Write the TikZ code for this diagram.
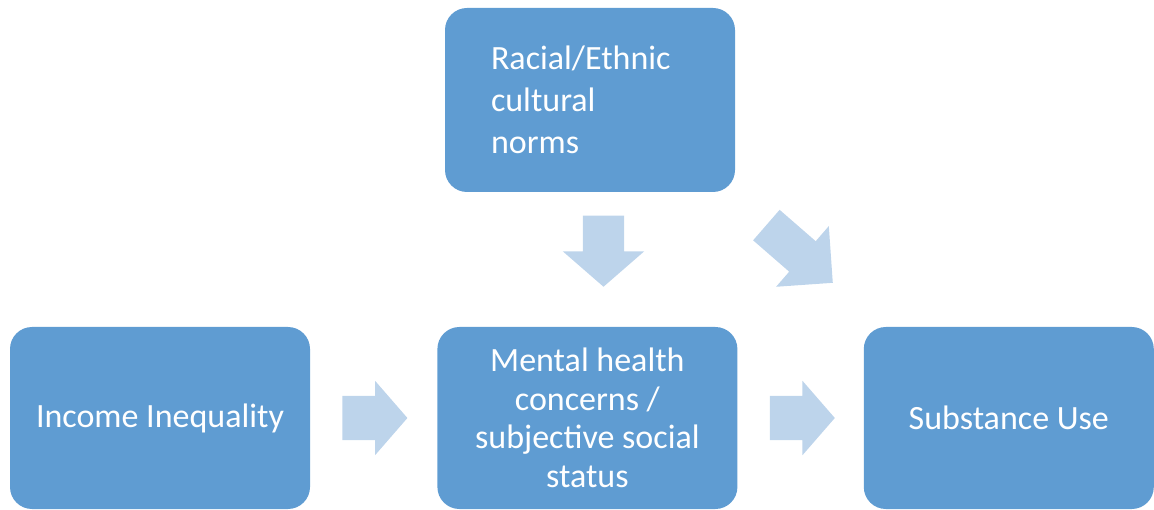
\documentclass[tikz,border=0pt]{standalone}
\usepackage{fontspec}
\setmainfont{Carlito}
\usetikzlibrary{positioning,shapes.arrows}
\definecolor{boxblue}{HTML}{5F9CD2}
\definecolor{arrowblue}{HTML}{BDD4EB}

\begin{document}
\begin{tikzpicture}[x=1pt,y=-1pt,box/.style={fill=boxblue,rounded corners=22pt,minimum height=182pt,minimum width=300pt,inner sep=0pt,align=center,text=white,font=\fontsize{34}{38.5}\selectfont},flow/.style={single arrow,fill=arrowblue,inner xsep=0pt,inner ysep=22pt,minimum height=65pt,single arrow head extend=15pt,single arrow tip angle=98}]
\useasboundingbox (0,0) rectangle (1154,510);
\node[box] (income) at (160,418) {Income Inequality};
\node[box,right=127pt of income] (mental) {Mental health\\concerns /\\subjective social\\status};
\node[box,right=126pt of mental,minimum width=290pt] (subst) {Substance Use};
\node[box,minimum width=290pt,minimum height=184pt,align=left,text width=198pt,font=\fontsize{34}{42}\selectfont] (norms) at (590,100) {Racial/Ethnic\\cultural\\norms};
% block arrows between the boxes
\node[flow,right=32pt of income] (incarrow) {};
\node[flow,right=32pt of mental] (subarrow) {};
\node[flow,rotate=-90,anchor=tip,inner ysep=20.5pt,minimum height=71pt,single arrow head extend=20pt] (normsdown) at (603.5,287) {};
\node[flow,rotate=-41,anchor=tip,inner ysep=20pt,minimum height=88pt,single arrow head extend=20pt,single arrow tip angle=90] (normsdiag) at (833,283) {};
\end{tikzpicture}
\end{document}
